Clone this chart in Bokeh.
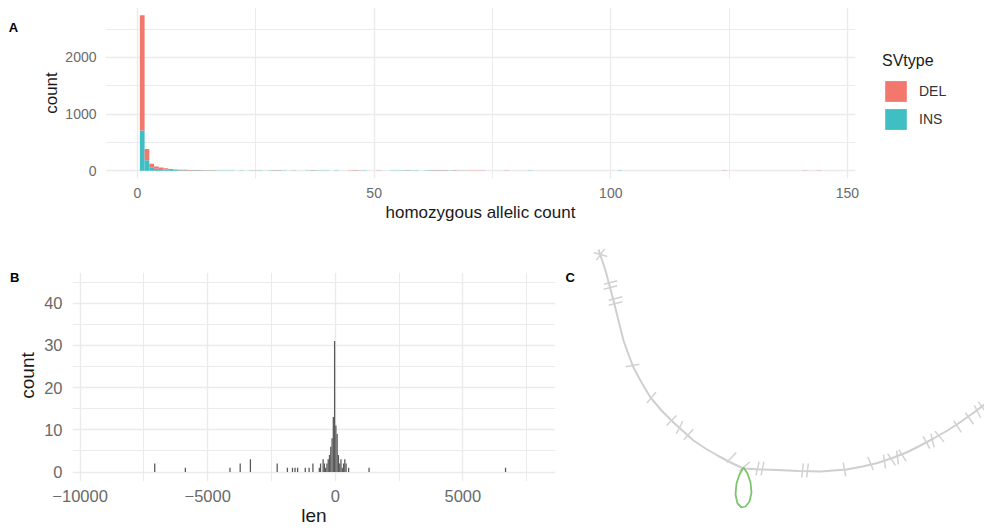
import numpy as np
from bokeh.plotting import figure
from bokeh.layouts import column, row
from bokeh.models import (ColumnDataSource, FixedTicker, Legend, LegendItem,
                          Label, Range1d)
from bokeh.embed import file_html
from bokeh.resources import INLINE

FONT = "Liberation Sans"

# ---------------- Panel A data: homozygous allelic count histogram (binwidth 1)
hom_count = [1, 2, 3, 4, 5, 6, 7, 8, 9, 10, 11, 12, 13, 14, 15, 16, 17, 18, 19, 20,
             22, 24, 25, 26, 28, 29, 30, 31, 33, 36, 37, 38, 39, 40, 42, 45, 46, 47, 48,
             51, 54, 55, 56, 57, 58, 59, 61, 62, 63, 64, 65, 66, 67, 68, 69, 70, 71, 72,
             73, 78, 83, 102, 124, 141, 144]
del_counts = [2035, 200, 62, 38, 28, 22, 16, 12, 10, 9, 8, 5, 6, 4, 5, 3, 4, 2, 4, 2,
              3, 2, 5, 4, 1, 2, 1, 2, 1, 0, 1, 0, 2, 0, 1, 5, 6, 5, 4,
              2, 1, 0, 1, 2, 0, 1, 3, 4, 5, 4, 5, 4, 5, 4, 3, 5, 4, 5,
              4, 4, 0, 0, 4, 4, 4]
ins_counts = [708, 185, 60, 37, 30, 20, 14, 11, 9, 7, 6, 8, 7, 6, 3, 4, 2, 3, 2, 2,
              2, 3, 1, 2, 3, 5, 6, 4, 2, 5, 6, 5, 4, 5, 4, 1, 2, 1, 2,
              1, 5, 6, 5, 6, 5, 4, 2, 3, 2, 3, 3, 2, 2, 1, 2, 0, 1, 0,
              0, 0, 4, 4, 0, 0, 0]
sv_types = ["DEL", "INS"]
a_xticks = [0, 50, 100, 150]
a_yticks = [0, 1000, 2000]

# ---------------- Panel B data: SV length histogram (binwidth 50)
len_bins = [-7075, -5875, -4125, -3725, -3325, -2275, -1875, -1675, -1575, -1475,
            -1175, -1025, -875, -625, -575, -475, -425, -375, -325, -275, -225,
            -175, -125, -75, -25, 25, 75, 125, 175, 225, 275, 325, 375, 425, 525,
            1325, 6675]
len_counts = [2, 1, 1, 2, 3, 2, 1, 1, 1, 1,
              1, 1, 2, 1, 2, 3, 2, 1, 2, 3, 4,
              6, 8, 13, 31, 11, 9, 4, 2, 3, 1, 2, 3, 2, 1,
              1, 1]
b_xticks = [-10000, -5000, 0, 5000]
b_yticks = [0, 10, 20, 30, 40]

# ---------------- Panel C data: graph layout (node path, hatch marks, loop)
graph_x = [598, 601, 605, 609, 613, 618, 623, 628, 633, 641, 650, 661, 673, 683, 693,
           705, 717, 730, 743, 760, 777, 798, 820, 846, 862, 877, 892, 907, 920, 933,
           947, 960, 972, 984]
graph_y = [249, 258, 270, 285, 300, 320, 340, 354, 367, 382, 397, 410, 422, 431, 440,
           448, 455, 462, 468, 469, 469.5, 470.5, 471, 469, 466, 462.5, 457.5, 451.5,
           445, 438, 430, 421.5, 413, 404]
tick_x = [600, 600, 610, 610, 615, 615, 632, 651, 671, 679, 688, 731, 744, 757, 762,
          802, 807, 844, 870, 884, 891, 897, 902, 926, 932, 939, 957, 969, 977, 982]
tick_y = [254, 254, 282, 287, 298, 303, 365, 397, 420, 427, 434, 457, 466, 468, 468,
          470, 470, 469, 463, 461, 459, 457, 455, 442, 440, 436, 426, 418, 411, 407]
tick_tilt = [35, -35, 0, 0, 0, 0, 10, -10, 0, -15, 0, 15, 25, 10, 10,
             5, 5, 0, -10, 10, -15, 15, -10, 0, 15, -10, 0, 0, 10, 0]
loop_x = [743, 747, 750, 751, 749, 745, 741, 737, 735, 736, 739, 743]
loop_y = [467, 473, 482, 492, 501, 506, 507, 503, 494, 483, 474, 467]

DEL_COL = "#F2776C"
INS_COL = "#3FBFC4"
GRID = "#EBEBEB"
TICKLAB = "#6a6a6a"
TITLE = "#1a1a1a"

COMMON = dict(output_backend="svg", toolbar_location=None, frame_align=False)


def style_axes(p, tick_size, title_size):
    for ax in p.axis:
        ax.axis_line_color = None
        ax.major_tick_line_color = None
        ax.minor_tick_line_color = None
        ax.major_tick_out = 0
        ax.major_tick_in = 0
        ax.minor_tick_out = 0
        ax.minor_tick_in = 0
        ax.major_label_text_font = FONT
        ax.major_label_text_font_size = tick_size
        ax.major_label_text_color = TICKLAB
        ax.axis_label_text_font = FONT
        ax.axis_label_text_font_size = title_size
        ax.axis_label_text_font_style = "normal"
        ax.axis_label_text_color = TITLE
    p.outline_line_color = None
    for g in p.grid:
        g.grid_line_color = GRID
        g.grid_line_width = 1.4
        g.minor_grid_line_color = GRID
        g.minor_grid_line_width = 1.0


def blank(width, height, x0, y0):
    p = figure(width=width, height=height, x_range=Range1d(x0, x0 + width),
               y_range=Range1d(y0 + height, y0), x_axis_type=None, y_axis_type=None,
               min_border=0, **COMMON)
    p.grid.visible = False
    p.outline_line_color = None
    return p


def panel_tag(p, x, y, txt):
    p.add_layout(Label(x=x, y=y, text=txt, text_font=FONT, text_font_size="13px",
                       text_font_style="bold", text_color="black",
                       text_baseline="alphabetic"))


# ---------------- Panel A
pLabA = blank(30, 240, 0, 0)
panel_tag(pLabA, 8.3, 26.7, "A")

pA = figure(width=835, height=240, x_range=Range1d(-6.76, 151.7),
            y_range=Range1d(-137, 2880), min_border_left=75, min_border_right=10,
            min_border_top=7, min_border_bottom=62, **COMMON)
srcA = ColumnDataSource(dict(x=hom_count, INS=ins_counts, DEL=del_counts))
rs = pA.vbar_stack(["INS", "DEL"], x="x", width=1, color=[INS_COL, DEL_COL],
                   line_color=None, source=srcA)
pA.xaxis.ticker = FixedTicker(ticks=a_xticks, minor_ticks=[25, 75, 125])
pA.yaxis.ticker = FixedTicker(ticks=a_yticks, minor_ticks=[500, 1500, 2500])
pA.xaxis.axis_label = "homozygous allelic count"
pA.yaxis.axis_label = "count"
style_axes(pA, "14px", "17px")
pA.xaxis.major_label_standoff = 9
pA.xaxis.axis_label_standoff = 2
pA.yaxis.major_label_standoff = 9
pA.yaxis.axis_label_standoff = 1

# legend box (keys share the colours of the stacked bars)
pLegA = blank(119, 240, 865, 0)
kDEL = pLegA.vbar(x=[-1000], top=[0], width=1, fill_color=DEL_COL, line_color=None)
kINS = pLegA.vbar(x=[-1000], top=[0], width=1, fill_color=INS_COL, line_color=None)
legend = Legend(items=[LegendItem(label=sv_types[0], renderers=[kDEL]),
                       LegendItem(label=sv_types[1], renderers=[kINS])],
                title="SVtype", location=(17, 108),
                glyph_width=27, glyph_height=26, spacing=2, label_standoff=10,
                padding=0, margin=0, border_line_color=None,
                background_fill_alpha=0, title_standoff=8,
                title_text_font=FONT, title_text_font_size="16px",
                title_text_font_style="normal", title_text_color=TITLE,
                label_text_font=FONT, label_text_font_size="14px",
                label_text_color="#333333")
pLegA.add_layout(legend)

# ---------------- Panel B
pLabB = blank(40, 291, 0, 240)
panel_tag(pLabB, 9.5, 277, "B")
pLabB.add_layout(Label(x=26.7, y=375, text="count", angle=np.pi / 2,
                       text_align="center", text_baseline="middle",
                       text_font=FONT, text_font_size="19px", text_color=TITLE))

pB = figure(width=520, height=291, x_range=Range1d(-10298, 8633),
            y_range=Range1d(-2.25, 47.25), min_border_left=32, min_border_right=5,
            min_border_top=32, min_border_bottom=50, **COMMON)
pB.vbar(x=len_bins, top=len_counts, width=50, fill_color="#595959", line_color=None)
pB.xaxis.ticker = FixedTicker(ticks=b_xticks, minor_ticks=[-7500, -2500, 2500, 7500])
pB.yaxis.ticker = FixedTicker(ticks=b_yticks, minor_ticks=[5, 15, 25, 35, 45])
pB.xaxis.axis_label = "len"
style_axes(pB, "16.5px", "19px")
pB.xaxis.major_label_standoff = 8
pB.xaxis.axis_label_standoff = 0
pB.yaxis.major_label_standoff = 10

# ---------------- Panel C
pC = blank(424, 291, 560, 240)
pC.line(graph_x, graph_y, line_color="#CFCFCF", line_width=2)

gx = np.array(graph_x, dtype=float)
gy = np.array(graph_y, dtype=float)
x0s, y0s, x1s, y1s = [], [], [], []
for tx, ty, tt in zip(tick_x, tick_y, tick_tilt):
    d = (gx[:-1] + gx[1:]) / 2 - tx
    e = (gy[:-1] + gy[1:]) / 2 - ty
    i = int(np.argmin(d * d + e * e))
    dx, dy = gx[i + 1] - gx[i], gy[i + 1] - gy[i]
    n = np.hypot(dx, dy)
    nx, ny = -dy / n, dx / n
    a = np.radians(tt)
    rx = nx * np.cos(a) - ny * np.sin(a)
    ry = nx * np.sin(a) + ny * np.cos(a)
    x0s.append(tx - 7 * rx); y0s.append(ty - 7 * ry)
    x1s.append(tx + 7 * rx); y1s.append(ty + 7 * ry)
pC.segment(x0s, y0s, x1s, y1s, line_color="#D2D2D2", line_width=1.5)
pC.line(loop_x, loop_y, line_color="#7CC46E", line_width=1.8)
panel_tag(pC, 565, 276.7, "C")

layout = column(row(pLabA, pA, pLegA), row(pLabB, pB, pC))
open("out.html", "w").write(file_html(layout, INLINE))
